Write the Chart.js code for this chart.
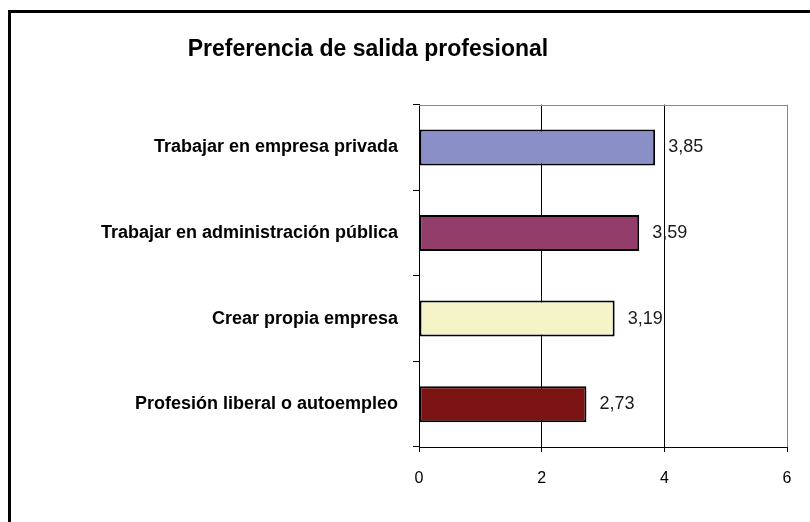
<!DOCTYPE html>
<html>
<head>
<meta charset="utf-8">
<script src="https://cdn.jsdelivr.net/npm/chart.js@4"></script>
<style>
  html, body { margin: 0; padding: 0; background: #fff; overflow: hidden; }
  body { width: 810px; height: 522px; position: relative; }
  #frame { position: absolute; left: 8px; top: 10px; width: 820px; height: 600px;
           border-left: 3px solid #000; border-top: 3px solid #000; box-sizing: border-box; pointer-events: none; }
  #wrap { position: absolute; left: -51px; top: 0; width: 861px; height: 522px; }
</style>
</head>
<body>
<div id="wrap"><canvas id="c" width="861" height="522"></canvas></div>
<div id="frame"></div>
<script>
const categories = [
  "Trabajar en empresa privada",
  "Trabajar en administración pública",
  "Crear propia empresa",
  "Profesión liberal o autoempleo"
];
const values = [3.85, 3.59, 3.19, 2.73];
const barColors = ["#8B8FC7", "#933D6B", "#F4F4C8", "#7B1313"];
const xTicks = [0, 2, 4, 6];
const titleText = "Preferencia de salida profesional";

const FONT = "'Liberation Sans', Arial, sans-serif";

const fmt = v => v.toFixed(2).replace('.', ',');

const topBorder = {
  id: 'topBorder',
  beforeDatasetsDraw(chart) {
    const a = chart.chartArea, ctx = chart.ctx;
    ctx.save();
    ctx.strokeStyle = '#8a8a8a';
    ctx.lineWidth = 1;
    ctx.beginPath();
    ctx.moveTo(a.left, Math.round(a.top) + 0.5);
    ctx.lineTo(a.right, Math.round(a.top) + 0.5);
    ctx.stroke();
    ctx.restore();
  }
};

const valueLabels = {
  id: 'valueLabels',
  afterDatasetsDraw(chart) {
    const ctx = chart.ctx;
    ctx.save();
    ctx.font = "18px " + FONT;
    ctx.fillStyle = '#1a1a1a';
    ctx.textAlign = 'left';
    ctx.textBaseline = 'middle';
    chart.getDatasetMeta(0).data.forEach((bar, i) => {
      ctx.fillText(fmt(values[i]), bar.x + 13, bar.y);
    });
    ctx.restore();
  }
};

new Chart(document.getElementById('c'), {
  type: 'bar',
  data: {
    labels: categories,
    datasets: [{
      data: values,
      backgroundColor: barColors,
      borderColor: '#000',
      borderWidth: 2,
      borderSkipped: false,
      barPercentage: 0.42,
      categoryPercentage: 1
    }]
  },
  options: {
    indexAxis: 'y',
    responsive: false,
    animation: false,
    devicePixelRatio: 1,
    layout: { padding: { left: 0, right: 23, top: 0, bottom: 0 } },
    plugins: {
      legend: { display: false },
      tooltip: { enabled: false },
      title: {
        display: true,
        text: titleText,
        color: '#000',
        font: { family: FONT, size: 23, weight: 'bold' },
        padding: { top: 36, bottom: 41 }
      }
    },
    scales: {
      x: {
        min: 0, max: 6,
        afterBuildTicks(scale) { scale.ticks = xTicks.map(v => ({ value: v })); },
        afterFit(scale) { scale.height = 75; },
        ticks: {
          color: '#000',
          font: { family: FONT, size: 16 },
          padding: 17,
          callback: v => String(v)
        },
        grid: {
          color: ctx => (ctx.tick && ctx.tick.value === 6) ? '#8a8a8a' : '#000',
          tickColor: '#000',
          tickLength: 5,
          lineWidth: 1
        },
        border: { color: '#000', width: 1 }
      },
      y: {
        afterFit(scale) { scale.width = 470; },
        ticks: {
          color: '#000',
          font: { family: FONT, size: 18, weight: 'bold' },
          padding: 15
        },
        grid: {
          offset: true,
          drawOnChartArea: false,
          tickLength: 6,
          color: '#000'
        },
        border: { color: '#000', width: 1 }
      }
    }
  },
  plugins: [topBorder, valueLabels]
});
</script>
</body>
</html>
